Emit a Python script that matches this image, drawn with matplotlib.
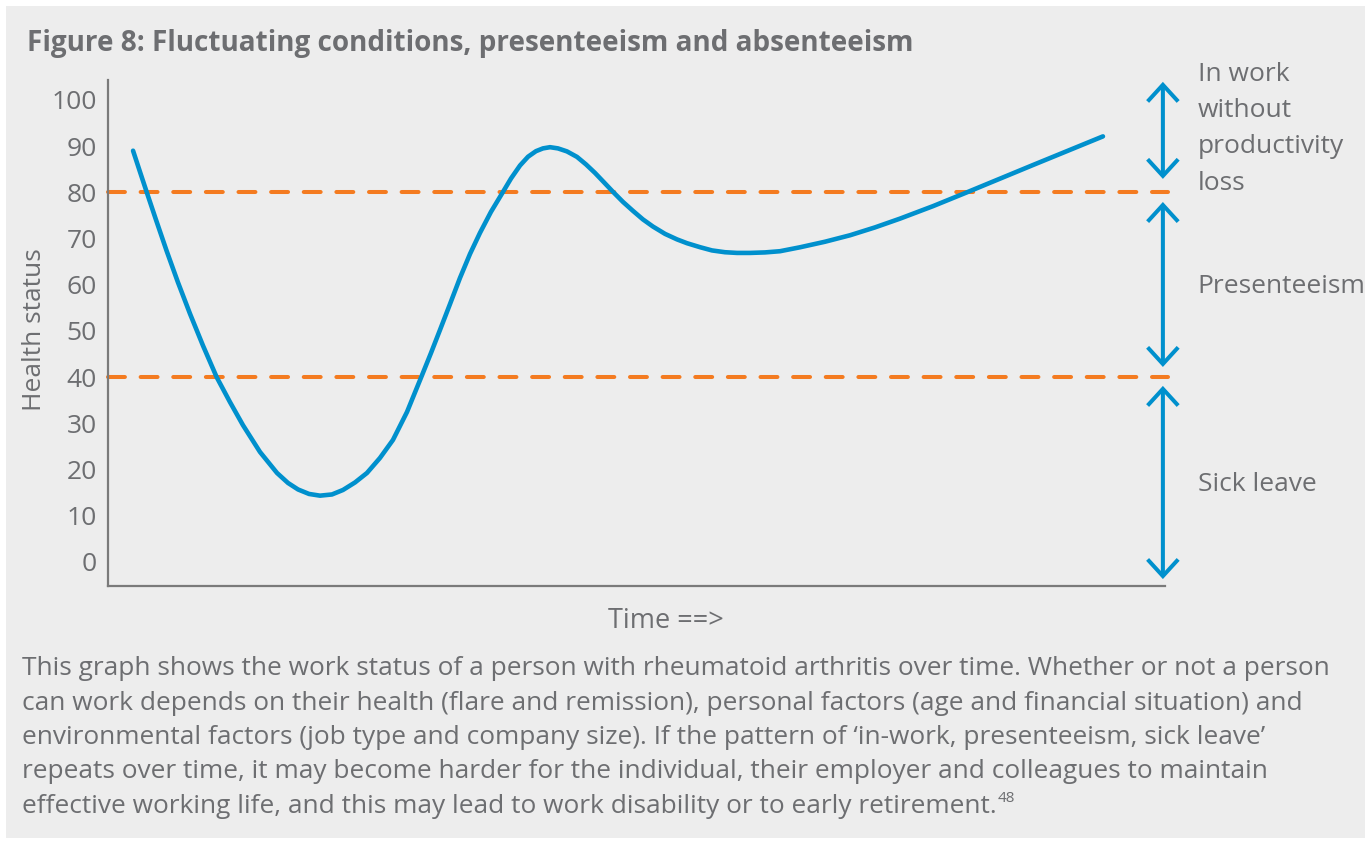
import matplotlib
matplotlib.use("Agg")
import matplotlib.pyplot as plt
from matplotlib.patches import Rectangle

# health status over time
time = [2.37, 3.03, 3.66, 4.54, 5.55, 6.62, 7.76, 8.99, 10.28, 11.54, 12.77, 14.38,
        15.99, 17.03, 17.98, 19.02, 20.06, 21.19, 22.23, 23.37, 24.50, 25.73, 26.96,
        28.29, 29.68, 30.56, 31.41, 32.36, 33.30, 34.25, 35.19, 36.23, 37.37, 38.13,
        38.98, 39.74, 40.49, 41.15, 41.82, 42.57, 43.42, 44.37, 45.22, 46.07, 46.93,
        47.78, 48.72, 49.67, 50.61, 51.56, 52.70, 53.83, 54.78, 56.01, 57.14, 58.37,
        59.51, 60.74, 62.16, 63.58, 65.47, 67.83, 70.20, 72.56, 74.93, 78.05, 81.27,
        84.39, 87.51, 90.82, 94.13]
health = [89.0, 84.4, 80.05, 74.05, 67.3, 60.5, 53.7, 46.8, 40.0, 34.6, 29.6, 23.8,
          19.26, 17.1, 15.69, 14.72, 14.35, 14.61, 15.58, 17.21, 19.26, 22.51, 26.41,
          32.47, 40.26, 45.24, 50.22, 55.84, 61.47, 66.67, 71.21, 75.76, 80.09, 83.0,
          85.8, 87.7, 88.9, 89.5, 89.76, 89.50, 88.85, 87.66, 86.04, 84.20, 82.14,
          80.09, 77.92, 75.97, 74.13, 72.58, 71.00, 69.81, 68.98, 68.12, 67.42, 67.03,
          66.88, 66.88, 66.99, 67.25, 68.1, 69.3, 70.7, 72.4, 74.3, 77.0, 80.0,
          82.95, 85.9, 89.0, 92.1]

thresholds = [80, 40]
yticks = list(range(0, 101, 10))

# (bottom, top) of the status arrows on the right
bands = [(82.9, 103.9), (42.2, 77.9), (-3.7, 38.1)]
# band labels, one entry per text line: (text, baseline in data units)
band_lines = [("In work", 104.0), ("without", 96.2), ("productivity", 88.4),
              ("loss", 80.6), ("Presenteeism", 58.1), ("Sick leave", 15.4)]

title = "Figure 8: Fluctuating conditions, presenteeism and absenteeism"
caption = ["This graph shows the work status of a person with rheumatoid arthritis over time. Whether or not a person",
           "can work depends on their health (flare and remission), personal factors (age and financial situation) and",
           "environmental factors (job type and company size). If the pattern of \u2018in-work, presenteeism, sick leave\u2019",
           "repeats over time, it may become harder for the individual, their employer and colleagues to maintain",
           "effective working life, and this may lead to work disability or to early retirement."]
footnote = "48"

BG = "#ededed"
GREY = "#6d6e71"
BLUE = "#0090cd"
ORANGE = "#f47b20"
W, H = 1365, 841

plt.rcParams["font.family"] = ["Open Sans", "DejaVu Sans"]

fig = plt.figure(figsize=(W / 100, H / 100), dpi=100)
fig.patch.set_facecolor("white")
fig.patches.append(Rectangle((6 / W, 1 - 838 / H), 1 - 6 / W, (838 - 6) / H,
                             transform=fig.transFigure, facecolor=BG,
                             edgecolor="none", zorder=-10))

ax = fig.add_axes([108 / W, 1 - 586 / H, (1165 - 108) / W, (586 - 80) / H])
ax.set_facecolor("none")
ax.set_xlim(0, 100)
ax.set_ylim(-5.2, 104.3)

for s in ["top", "right"]:
    ax.spines[s].set_visible(False)
for s in ["left", "bottom"]:
    ax.spines[s].set_color("#7a7a7a")
    ax.spines[s].set_linewidth(1.6)

ax.set_xticks([])
ax.set_yticks(yticks)
ax.tick_params(axis="y", length=0, pad=8, labelsize=19, labelcolor=GREY)

for t in thresholds:
    ax.plot([0, 100.3], [t, t], color=ORANGE, lw=2.9, dashes=(4.2, 3.9),
            dash_capstyle="round", clip_on=False, zorder=2)

ax.plot(time, health, color=BLUE, lw=3.3, solid_capstyle="round",
        solid_joinstyle="round", zorder=3)

for lo, hi in bands:
    ax.annotate("", xy=(99.8, hi), xytext=(99.8, lo),
                arrowprops=dict(arrowstyle="<->,head_length=1.2,head_width=1.1",
                                color=BLUE, lw=2.9, shrinkA=0, shrinkB=0,
                                joinstyle="miter", capstyle="butt"),
                annotation_clip=False)
for txt, yb in band_lines:
    ax.text(103.1, yb, txt, fontsize=19.0, color=GREY, va="baseline", ha="left")

fig.text(35 / W, 1 - 330 / H, "Health status", fontsize=19, color=GREY,
         rotation=90, ha="center", va="center")
fig.text(666 / W, 1 - 628 / H, "Time ==>", fontsize=19.5, color=GREY,
         ha="center", va="baseline")

fig.text(27 / W, 1 - 44 / H, title, fontsize=20.1, fontweight="bold",
         color=GREY, va="center", ha="left")

base = 675
for i, line in enumerate(caption):
    tx = fig.text(22 / W, 1 - (base + 34.5 * i) / H, line, fontsize=18.9,
                  color=GREY, va="baseline", ha="left")

# superscript reference after the last caption line
fig.canvas.draw()
bb = tx.get_window_extent()
fig.text((bb.x1 + 1) / W, 1 - (base + 34.5 * 4 - 11) / H, footnote,
         fontsize=11, color=GREY, va="baseline", ha="left")

fig.savefig("out.png", dpi=100, facecolor=fig.get_facecolor())
